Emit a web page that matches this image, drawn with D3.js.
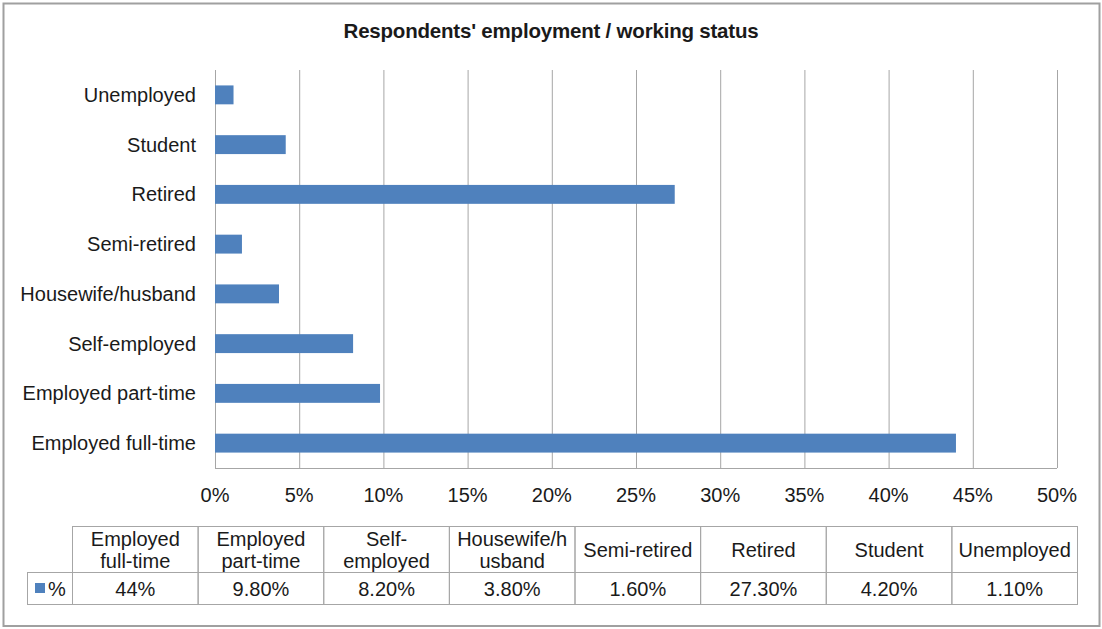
<!DOCTYPE html>
<html>
<head>
<meta charset="utf-8">
<script src="https://cdn.jsdelivr.net/npm/d3@7"></script>
<style>
  body { margin: 0; background: #fff; }
  svg text { font-family: "Liberation Sans", Arial, sans-serif; fill: #1a1a1a; }
  .grid line { stroke: #a6a6a6; }
  .grid path { display: none; }
</style>
</head>
<body>
<svg id="chart" width="1102" height="629"></svg>
<script>
// data, in table order
const categories = ['Employed full-time', 'Employed part-time', 'Self-employed', 'Housewife/husband',
    'Semi-retired', 'Retired', 'Student', 'Unemployed'];
const values = [44, 9.8, 8.2, 3.8, 1.6, 27.3, 4.2, 1.1];
const valueLabels = ['44%', '9.80%', '8.20%', '3.80%', '1.60%', '27.30%', '4.20%', '1.10%'];
const headerLines = [['Employed', 'full-time'], ['Employed', 'part-time'], ['Self-', 'employed'],
    ['Housewife/h', 'usband'], ['Semi-retired'], ['Retired'], ['Student'], ['Unemployed']];
const xTicks = [0, 5, 10, 15, 20, 25, 30, 35, 40, 45, 50];
const seriesName = '%';
const barColor = '#4f81bd';
const fontSize = '20px';

const svg = d3.select('svg#chart');

// outer frame
svg.append('rect')
    .attr('x', 3.5).attr('y', 3.5)
    .attr('width', 1096).attr('height', 622.5)
    .attr('fill', 'none')
    .attr('stroke', '#a0a0a0')
    .attr('stroke-width', 2);

svg.append('text')
    .attr('x', 551)
    .attr('y', 38)
    .attr('text-anchor', 'middle')
    .style('font-weight', 'bold')
    .style('font-size', '20.5px')
    .style('letter-spacing', '-0.2px')
    .text("Respondents' employment / working status");

const plotLeft = 215, plotRight = 1057, plotTop = 70, plotBottom = 468;

const xScale = d3.scaleLinear()
    .domain([0, 50])
    .range([plotLeft, plotRight]);

const yScale = d3.scaleBand()
    .domain(categories.slice().reverse())
    .range([plotTop, plotBottom])
    .paddingInner(0.62)
    .paddingOuter(0.31);

// vertical grid lines
svg.append('g')
    .attr('class', 'grid')
    .attr('transform', `translate(0, ${plotBottom})`)
    .call(d3.axisBottom(xScale)
        .tickValues(xTicks)
        .tickSize(-(plotBottom - plotTop))
        .tickFormat(''));

// baseline
svg.append('line')
    .attr('x1', plotLeft).attr('x2', plotRight)
    .attr('y1', plotBottom + 0.5).attr('y2', plotBottom + 0.5)
    .attr('stroke', '#a6a6a6');

// bars
svg.selectAll('rect.bar')
    .data(categories)
    .enter()
    .append('rect')
    .attr('class', 'bar')
    .attr('x', xScale(0))
    .attr('y', d => yScale(d))
    .attr('width', (d, i) => xScale(values[i]) - xScale(0))
    .attr('height', yScale.bandwidth())
    .attr('fill', barColor);

// category labels
svg.selectAll('text.cat')
    .data(categories)
    .enter()
    .append('text')
    .attr('class', 'cat')
    .attr('x', 196)
    .attr('y', d => yScale(d) + yScale.bandwidth() / 2)
    .attr('dy', '0.35em')
    .attr('text-anchor', 'end')
    .style('font-size', fontSize)
    .text(d => d);

// x tick labels
svg.selectAll('text.tick')
    .data(xTicks)
    .enter()
    .append('text')
    .attr('class', 'tick')
    .attr('x', d => xScale(d))
    .attr('y', 495)
    .attr('dy', '0.35em')
    .attr('text-anchor', 'middle')
    .style('font-size', fontSize)
    .text(d => d + '%');

// data table
const colScale = d3.scaleBand()
    .domain(categories)
    .range([72.5, 1077.5]);
const tTop = 526.5, tMid = 572.5, tBot = 604.5, legendLeft = 27.5;
const tableStroke = '#a6a6a6';
const table = svg.append('g');

table.selectAll('rect.cell')
    .data(categories)
    .enter()
    .append('rect')
    .attr('x', d => colScale(d))
    .attr('y', tTop)
    .attr('width', colScale.bandwidth())
    .attr('height', tBot - tTop)
    .attr('fill', 'none')
    .attr('stroke', tableStroke);

table.append('line')
    .attr('x1', legendLeft).attr('x2', 1077.5)
    .attr('y1', tMid).attr('y2', tMid)
    .attr('stroke', tableStroke);
table.append('rect')
    .attr('x', legendLeft).attr('y', tMid)
    .attr('width', 72.5 - legendLeft).attr('height', tBot - tMid)
    .attr('fill', 'none')
    .attr('stroke', tableStroke);

// header labels
categories.forEach((c, i) => {
    const lines = headerLines[i];
    const cx = colScale(c) + colScale.bandwidth() / 2;
    const cy = (tTop + tMid) / 2;
    lines.forEach((ln, j) => {
        table.append('text')
            .attr('x', cx)
            .attr('y', cy + (j - (lines.length - 1) / 2) * 22)
            .attr('dy', '0.35em')
            .attr('text-anchor', 'middle')
            .style('font-size', fontSize)
            .text(ln);
    });
});

// values row
table.selectAll('text.val')
    .data(categories)
    .enter()
    .append('text')
    .attr('class', 'val')
    .attr('x', d => colScale(d) + colScale.bandwidth() / 2)
    .attr('y', (tMid + tBot) / 2)
    .attr('dy', '0.35em')
    .attr('text-anchor', 'middle')
    .style('font-size', fontSize)
    .text((d, i) => valueLabels[i]);

// legend key
table.append('rect')
    .attr('x', 35).attr('y', 583)
    .attr('width', 10).attr('height', 10)
    .attr('fill', barColor);
table.append('text')
    .attr('x', 48)
    .attr('y', (tMid + tBot) / 2)
    .attr('dy', '0.35em')
    .style('font-size', fontSize)
    .text(seriesName);
</script>
</body>
</html>
